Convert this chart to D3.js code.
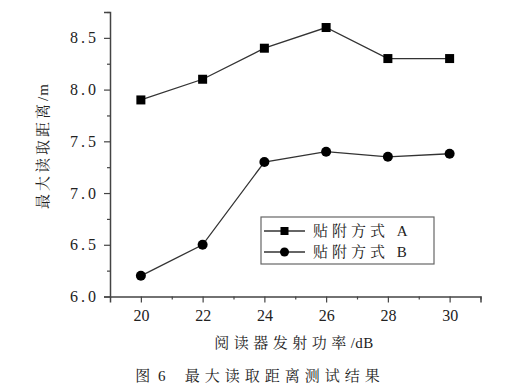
<!DOCTYPE html>
<html>
<head>
<meta charset="utf-8">
<script src="https://cdn.jsdelivr.net/npm/d3@7"></script>
<style>
body { margin: 0; background: #fff; }
text { font-family: "Liberation Serif", "Noto Serif CJK SC", "Noto Sans CJK SC", serif; fill: #222; }
</style>
</head>
<body>
<div id="chart"></div>
<script>
var power = [20, 22, 24, 26, 28, 30];
var seriesA = [7.9, 8.1, 8.4, 8.6, 8.3, 8.3];
var seriesB = [6.2, 6.5, 7.3, 7.4, 7.35, 7.38];
var seriesNames = ["贴附方式 A", "贴附方式 B"];
var xTicks = [20, 22, 24, 26, 28, 30];
var yTicks = [6.0, 6.5, 7.0, 7.5, 8.0, 8.5];

var width = 520, height = 390;
var svg = d3.select("#chart").append("svg")
    .attr("width", width)
    .attr("height", height);

var x = d3.scaleLinear().domain([19, 31]).range([110, 480.5]);
var y = d3.scaleLinear().domain([6.0, 8.75]).range([296.5, 12]);

var axisColor = "#444";

// y axis
var yAxis = svg.append("g")
    .attr("transform", "translate(" + x(19) + ",0)")
    .call(d3.axisLeft(y).tickValues(yTicks).tickFormat(d3.format(".1f")).tickSize(6).tickPadding(5));
svg.append("g")
    .attr("transform", "translate(" + x(19) + ",0)")
    .call(d3.axisLeft(y).tickValues([6.25, 6.75, 7.25, 7.75, 8.25, 8.75]).tickFormat("").tickSize(3))
    .select(".domain").remove();

// x axis
var xAxis = svg.append("g")
    .attr("transform", "translate(0," + y(6.0) + ")")
    .call(d3.axisBottom(x).tickValues(xTicks).tickSize(6).tickPadding(7));
svg.append("g")
    .attr("transform", "translate(0," + y(6.0) + ")")
    .call(d3.axisBottom(x).tickValues([21, 23, 25, 27, 29, 31]).tickFormat("").tickSize(3))
    .select(".domain").remove();

svg.selectAll(".domain").attr("stroke", axisColor).attr("stroke-width", 1.5);
svg.selectAll(".tick line").attr("stroke", axisColor).attr("stroke-width", 1.2);
yAxis.selectAll("text").style("font-size", "16px").style("letter-spacing", "3px").style("font-family", "Liberation Serif").attr("fill", "#333");
xAxis.selectAll("text").style("font-size", "16px").style("font-family", "Liberation Serif").attr("fill", "#333");

var line = d3.line()
    .x(function(d) { return x(d[0]); })
    .y(function(d) { return y(d[1]); });

var dataA = power.map(function(p, i) { return [p, seriesA[i]]; });
var dataB = power.map(function(p, i) { return [p, seriesB[i]]; });

svg.append("path").datum(dataA)
    .attr("fill", "none").attr("stroke", "#333").attr("stroke-width", 1.3)
    .attr("d", line);
svg.append("path").datum(dataB)
    .attr("fill", "none").attr("stroke", "#333").attr("stroke-width", 1.3)
    .attr("d", line);

svg.selectAll(".ptA").data(dataA).enter().append("rect")
    .attr("x", function(d) { return x(d[0]) - 4.5; })
    .attr("y", function(d) { return y(d[1]) - 4.5; })
    .attr("width", 9).attr("height", 9)
    .attr("fill", "#000");

svg.selectAll(".ptB").data(dataB).enter().append("circle")
    .attr("cx", function(d) { return x(d[0]); })
    .attr("cy", function(d) { return y(d[1]); })
    .attr("r", 5)
    .attr("fill", "#000");

// legend
var legend = svg.append("g").attr("transform", "translate(261,217)");
legend.append("rect")
    .attr("width", 173).attr("height", 47)
    .attr("fill", "#fff").attr("stroke", "#666").attr("stroke-width", 1.2);
seriesNames.forEach(function(name, i) {
    var ly = 14 + i * 21;
    legend.append("line")
        .attr("x1", 3).attr("x2", 44).attr("y1", ly).attr("y2", ly)
        .attr("stroke", "#333").attr("stroke-width", 1.3);
    if (i == 0) {
        legend.append("rect").attr("x", 19.5).attr("y", ly - 4).attr("width", 8).attr("height", 8).attr("fill", "#000");
    } else {
        legend.append("circle").attr("cx", 23.5).attr("cy", ly).attr("r", 4.5).attr("fill", "#000");
    }
    legend.append("text")
        .attr("x", 52).attr("y", ly).attr("dy", "0.35em")
        .style("font-size", "15px").style("letter-spacing", "4px")
        .text(name);
});

// axis titles
var yTitle = svg.append("text")
    .attr("transform", "translate(48,146)rotate(-90)")
    .attr("text-anchor", "middle")
    .style("font-size", "15px");
yTitle.append("tspan").style("letter-spacing", "3px").text("最大读取距离");
yTitle.append("tspan").style("letter-spacing", "1px").text("/m");

var xTitle = svg.append("text")
    .attr("x", 294).attr("y", 343).attr("dy", "0.35em")
    .attr("text-anchor", "middle")
    .style("font-size", "15px");
xTitle.append("tspan").style("letter-spacing", "4.5px").text("阅读器发射功率");
xTitle.append("tspan").style("letter-spacing", "0.5px").text("/dB");

var caption = svg.append("text")
    .attr("x", 260).attr("y", 376).attr("dy", "0.35em")
    .attr("text-anchor", "middle")
    .style("font-size", "15px")
    .style("white-space", "pre")
    .attr("fill", "#333");
caption.append("tspan").style("letter-spacing", "2px").text("图 6   ");
caption.append("tspan").style("letter-spacing", "5px").text("最大读取距离测试结果");
</script>
</body>
</html>
